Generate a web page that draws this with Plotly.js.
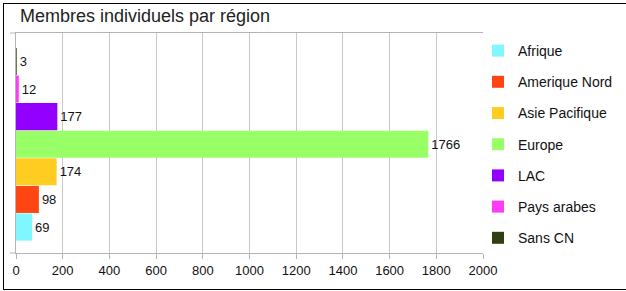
<!DOCTYPE html>
<html>
<head>
<meta charset="utf-8">
<script src="https://cdn.plot.ly/plotly-3.0.1.min.js"></script>
<style>
html,body{margin:0;padding:0;background:#fff;}
#wrap{position:relative;width:626px;height:291px;}
#chart{width:626px;height:291px;}
#frame{position:absolute;left:3px;top:3px;width:623px;height:285px;border-left:1px solid #000;border-top:1px solid #000;border-bottom:1px solid #000;pointer-events:none;}
</style>
</head>
<body>
<div id="wrap"><div id="chart"></div><div id="frame"></div></div>
<script>
var regions = ["Afrique", "Amerique Nord", "Asie Pacifique", "Europe", "LAC", "Pays arabes", "Sans CN"];
var members = [69, 98, 174, 1766, 177, 12, 3];
var colors = ["#80f6ff", "#ff4512", "#ffcc22", "#99ff66", "#9400ff", "#ff3cf5", "#2f3f10"];
var xTicks = [0, 200, 400, 600, 800, 1000, 1200, 1400, 1600, 1800, 2000];

var traces = regions.map(function (r, i) {
  return {
    type: "bar",
    orientation: "h",
    name: r,
    y: [r],
    x: [members[i]],
    text: [String(members[i])],
    textposition: "outside",
    cliponaxis: false,
    textfont: {family: "Liberation Sans, Arial, sans-serif", size: 13, color: "#111"},
    marker: {color: colors[i], line: {width: 0}},
    legendgroup: "g" + i,
    hoverinfo: "none"
  };
});

var W = 626, H = 291;
var plotL = 16, plotR = 483, plotT = 33, plotB = 253;
var pw = plotR - plotL, ph = plotB - plotT;

var layout = {
  width: W, height: H,
  margin: {l: plotL, r: W - plotR, t: plotT, b: H - plotB, pad: 0, autoexpand: false},
  paper_bgcolor: "#fff", plot_bgcolor: "#fff",
  font: {family: "Liberation Sans, Arial, sans-serif", size: 13, color: "#111"},
  title: {text: "Membres individuels par région", x: 0, xref: "container", xanchor: "left", y: 1, yref: "container", yanchor: "top", pad: {t: 9, l: 20},
          font: {family: "Liberation Sans, Arial, sans-serif", size: 18, color: "#222"}},
  barmode: "overlay",
  bargap: 0.02,
  showlegend: true,
  legend: {xref: "container", yref: "container", x: 478 / W, xanchor: "left", y: 1 - 35 / H, yanchor: "top",
           traceorder: "grouped", tracegroupgap: 10, font: {size: 14, color: "#111"}, maxheight: 400,
           itemwidth: 30, bgcolor: "rgba(0,0,0,0)"},
  xaxis: {range: [0, 2000], tickvals: xTicks, ticktext: xTicks.map(String), showgrid: true, gridcolor: "#c8c8c8", gridwidth: 1,
          zeroline: false, showline: true, linecolor: "#b3b3b3", linewidth: 1, mirror: true,
          ticks: "outside", ticklen: 5, tickcolor: "#b3b3b3", tickfont: {size: 13, color: "#111"}, fixedrange: true},
  yaxis: {type: "category", categoryorder: "array", categoryarray: regions, range: [-0.94, 7.03],
          showticklabels: false, showgrid: false, zeroline: false, showline: true, linecolor: "#b3b3b3", linewidth: 1, ticks: "", fixedrange: true},
  shapes: [
    {type: "line", xref: "paper", yref: "paper", x0: -6 / pw, x1: 0, y0: 0, y1: 0, line: {color: "#b3b3b3", width: 1}},
    {type: "line", xref: "paper", yref: "paper", x0: -6 / pw, x1: 0, y0: 1, y1: 1, line: {color: "#b3b3b3", width: 1}}
  ]
};

Plotly.newPlot("chart", traces, layout, {staticPlot: true, displayModeBar: false});
</script>
</body>
</html>
